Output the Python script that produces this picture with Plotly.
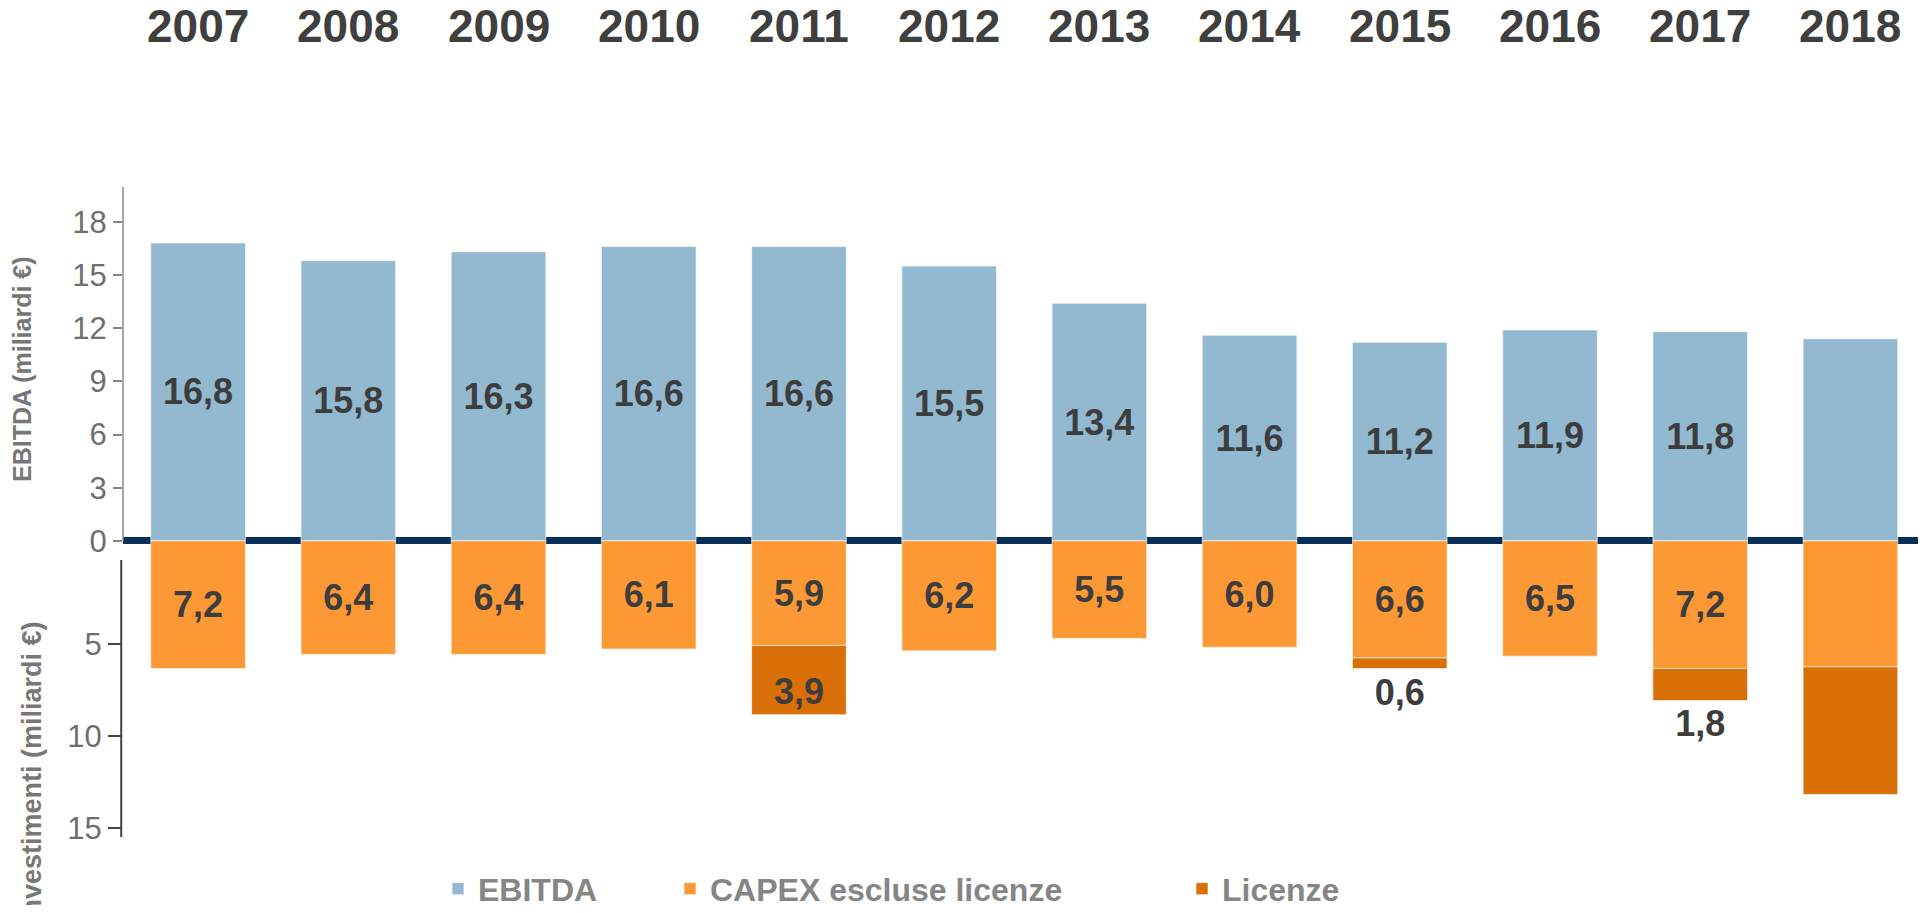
import plotly.graph_objects as go

years = ["2007", "2008", "2009", "2010", "2011", "2012",
         "2013", "2014", "2015", "2016", "2017", "2018"]
ebitda = [16.8, 15.8, 16.3, 16.6, 16.6, 15.5, 13.4, 11.6, 11.2, 11.9, 11.8, 11.4]
capex = [7.2, 6.4, 6.4, 6.1, 5.9, 6.2, 5.5, 6.0, 6.6, 6.5, 7.2, 7.1]
licenze = [None, None, None, None, 3.9, None, None, None, 0.6, None, 1.8, 7.2]
unlabeled = ["2018"]

FONT = "Liberation Sans, Arial, sans-serif"
LABEL_COLOR = "#3d3d3d"
GRAY = "#6e6e6e"


def fmt(v, year):
    if v is None or year in unlabeled:
        return ""
    return "<b>" + f"{v:.1f}".replace(".", ",") + "</b>"


label_font = dict(family=FONT, size=36, color=LABEL_COLOR)
edge = dict(color="rgba(255,255,255,0.6)", width=1)

fig = go.Figure()
fig.add_trace(go.Bar(
    x=years, y=ebitda, name="<b>EBITDA</b>",
    marker=dict(color="#92b9d0", line=edge),
    text=[fmt(v, y) for v, y in zip(ebitda, years)],
    textposition="inside", insidetextanchor="middle",
    textfont=label_font, constraintext="none", legend="legend",
))
fig.add_trace(go.Bar(
    x=years, y=[-v for v in capex], name="<b>CAPEX escluse licenze</b>",
    marker=dict(color="#fd9935", line=edge),
    text=[fmt(v, y) for v, y in zip(capex, years)],
    textposition="inside", insidetextanchor="middle",
    textfont=label_font, constraintext="none", legend="legend2",
))
fig.add_trace(go.Bar(
    x=years, y=[-v if v is not None else None for v in licenze], name="<b>Licenze</b>",
    marker=dict(color="#d86f07", line=edge),
    text=[fmt(v, y) for v, y in zip(licenze, years)],
    textposition=["inside" if (v or 0) > 3 else "outside" for v in licenze],
    textfont=label_font, constraintext="none", cliponaxis=False, legend="legend3",
))

# year headers above each column (category axis -> index positions)
for i, yr in enumerate(years):
    fig.add_annotation(x=i, y=1.247, xref="x", yref="paper", text="<b>" + yr + "</b>",
                       showarrow=False, xanchor="center", yanchor="middle",
                       font=dict(family=FONT, size=46, color="#3f3f3f"))

fig.add_annotation(x=-0.0563, y=0.72, xref="paper", yref="paper",
                   text="<b>EBITDA (miliardi €)</b>", textangle=-90, showarrow=False,
                   xanchor="center", yanchor="middle",
                   font=dict(family=FONT, size=25, color="#777777"))
fig.add_annotation(x=-0.0507, y=0.1, xref="paper", yref="paper",
                   text="<b>Investimenti (miliardi €)</b>", textangle=-90, showarrow=False,
                   xanchor="center", yanchor="middle",
                   font=dict(family=FONT, size=27, color="#777777"))

# axis lines: upper (EBITDA scale) and lower (investment scale)
fig.add_shape(type="line", xref="paper", x0=0, x1=0, yref="y", y0=0, y1=19.96,
              line=dict(color="#888888", width=1.5))
fig.add_shape(type="line", xref="paper", x0=-0.001, x1=-0.001, yref="y2", y0=0.43, y1=15.49,
              line=dict(color="#444444", width=2))

legend_style = dict(orientation="h", xref="container", yref="container",
                    y=0.018, xanchor="left", yanchor="middle",
                    bgcolor="rgba(0,0,0,0)", visible=True,
                    font=dict(family=FONT, size=32, color="#858585"))

fig.update_layout(
    width=1912, height=897,
    margin=dict(l=115, r=2, t=179, b=68),
    paper_bgcolor="white", plot_bgcolor="white",
    showlegend=True,
    barmode="relative", bargap=0.37,
    xaxis=dict(type="category", range=[-0.5, 11.45], showticklabels=False,
               showgrid=False, zeroline=False, showline=False, ticks=""),
    yaxis=dict(range=[-16.70, 19.96], tickvals=[0, 3, 6, 9, 12, 15, 18],
               showgrid=False, showline=False,
               ticks="outside", ticklen=9, tickwidth=1.5, tickcolor="#888888",
               tickfont=dict(family=FONT, size=31, color=GRAY),
               zeroline=True, zerolinecolor="#06305a", zerolinewidth=7,
               layer="above traces"),
    yaxis2=dict(overlaying="y", side="left", range=[15.49, -19.84],
                tickvals=[5, 10, 15], showgrid=False, zeroline=False, showline=False,
                ticks="outside", ticklen=14, tickwidth=2, tickcolor="#444444",
                tickfont=dict(family=FONT, size=31, color=GRAY)),
    legend=dict(x=430 / 1912, **legend_style),
    legend2=dict(x=662 / 1912, **legend_style),
    legend3=dict(x=1174 / 1912, **legend_style),
)

fig.write_html("out.html")
